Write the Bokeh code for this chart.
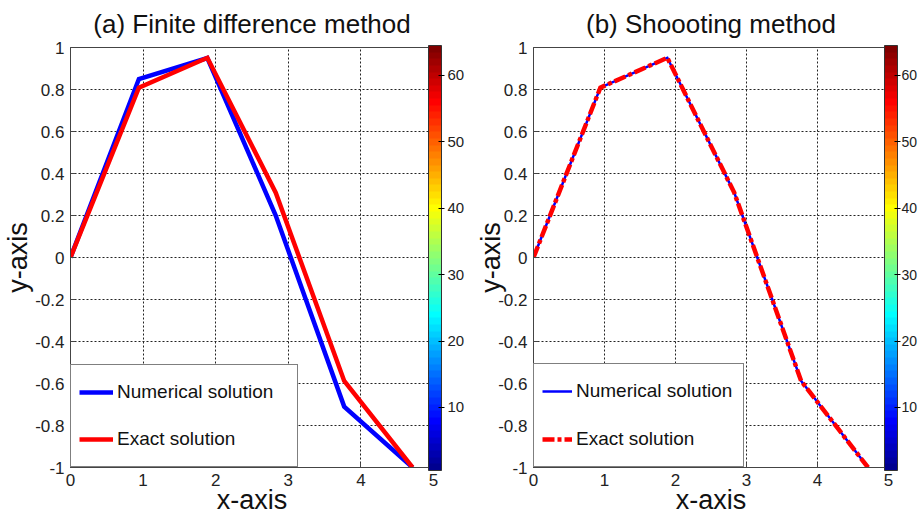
import math
from bokeh.plotting import figure
from bokeh.layouts import row
from bokeh.models import (Range1d, FixedTicker, NumeralTickFormatter, Legend, LegendItem,
                          ColorBar, LinearColorMapper, ColumnDataSource)
from bokeh.embed import file_html
from bokeh.resources import INLINE

# ---------------- data ----------------
x_nodes = [0.0, 0.942, 1.885, 2.827, 3.770, 4.712]
fd_numerical = [0.0, 0.85, 0.95, 0.20, -0.71, -1.0]
fd_exact = [0.0, 0.809, 0.951, 0.309, -0.588, -1.0]
sh_numerical = [0.0, 0.809, 0.951, 0.309, -0.588, -1.0]
sh_exact = [0.0, 0.809, 0.951, 0.309, -0.588, -1.0]

x_ticks = [0, 1, 2, 3, 4, 5]
y_ticks = [-1, -0.8, -0.6, -0.4, -0.2, 0, 0.2, 0.4, 0.6, 0.8, 1]
cb_ticks = [10, 20, 30, 40, 50, 60]
titles = ["(a) Finite difference method", "(b) Shoooting method"]
legend_labels = ["Numerical solution", "Exact solution"]

FONT = "Liberation Sans"


def jet(m=64):
    n = int(math.ceil(m / 4))
    u = [i / n for i in range(1, n + 1)] + [1.0] * (n - 1) + [i / n for i in range(n, 0, -1)]
    g0 = int(math.ceil(n / 2)) - (1 if m % 4 == 1 else 0)
    J = [[0.0, 0.0, 0.0] for _ in range(m)]
    for k, val in enumerate(u):
        gi = g0 + k + 1
        ri = gi + n
        bi = gi - n
        if 1 <= ri <= m:
            J[ri - 1][0] = val
        if 1 <= gi <= m:
            J[gi - 1][1] = val
        if 1 <= bi <= m:
            J[bi - 1][2] = val
    return ["#%02x%02x%02x" % tuple(int(round(c * 255)) for c in rgb) for rgb in J]


JET = jet(64)


def make_panel(title, y_num, y_ex, width, height, bl, br, bt, bb, shooting,
               cb_dx, ylab_standoff, leg, cb_font, cb_standoff):
    p = figure(width=width, height=height, output_backend="svg", toolbar_location=None,
               x_range=Range1d(0, 5), y_range=Range1d(-1, 1),
               min_border_left=bl, min_border_right=br, min_border_top=bt,
               min_border_bottom=bb)
    p.title.text = title
    p.title.align = "center"
    p.title.text_font = FONT
    p.title.text_font_size = "26px"
    p.title.text_font_style = "normal"
    p.title.text_color = "#111111"
    p.title.text_line_height = 0.7
    p.title.vertical_align = "top"
    p.title.standoff = 14
    p.outline_line_color = "#444444"
    p.outline_line_width = 1
    p.background_fill_color = "white"
    p.border_fill_color = "white"

    p.xaxis.ticker = FixedTicker(ticks=x_ticks)
    p.yaxis.ticker = FixedTicker(ticks=y_ticks)
    p.yaxis.formatter = NumeralTickFormatter(format="0.[0]")
    for ax in (p.xaxis, p.yaxis):
        ax.axis_line_color = "#444444"
        ax.major_tick_line_color = "#444444"
        ax.major_tick_in = 5
        ax.major_tick_out = 0
        ax.minor_tick_line_color = None
        ax.major_label_text_font = FONT
        ax.major_label_text_font_size = "17px"
        ax.major_label_text_color = "#222222"
        ax.major_label_standoff = 6
        ax.axis_label_text_font = FONT
        ax.axis_label_text_font_size = "27px"
        ax.axis_label_text_font_style = "normal"
        ax.axis_label_text_color = "#111111"
    p.xaxis.axis_label = "x-axis"
    p.yaxis.axis_label = "y-axis"
    p.xaxis.axis_label_standoff = -4
    p.yaxis.axis_label_standoff = ylab_standoff
    for g in (p.xgrid, p.ygrid):
        g.grid_line_color = "#222222"
        g.grid_line_dash = "2 2"
        g.grid_line_width = 1

    src = ColumnDataSource(dict(x=x_nodes, num=y_num, ex=y_ex))
    if not shooting:
        r_num = p.line("x", "num", source=src, line_color="#0000ff", line_width=4.5,
                       line_join="miter")
        r_ex = p.line("x", "ex", source=src, line_color="#ff0000", line_width=4.5,
                      line_join="miter")
    else:
        r_num = p.line("x", "num", source=src, line_color="#0000ff", line_width=2.5,
                       line_join="miter")
        r_ex = p.line("x", "ex", source=src, line_color="#ff0000", line_width=4.5,
                      line_dash="12 3 4 3", line_join="miter")

    legend = Legend(items=[LegendItem(label=legend_labels[0], renderers=[r_num]),
                           LegendItem(label=legend_labels[1], renderers=[r_ex])],
                    location="bottom_left", margin=0, padding=leg["pad"],
                    spacing=leg["spacing"], glyph_width=leg["gw"], glyph_height=38,
                    label_height=38, label_width=leg["lw"], label_standoff=4,
                    label_text_font=FONT, label_text_font_size="19px",
                    label_text_color="#111111", border_line_color="black",
                    border_line_width=1, background_fill_color="white",
                    background_fill_alpha=1.0)
    p.add_layout(legend)

    mapper = LinearColorMapper(palette=JET, low=0.5, high=64.5)
    cb = ColorBar(color_mapper=mapper, ticker=FixedTicker(ticks=cb_ticks),
                  location=(cb_dx, -3), width=13, height=425, padding=0, margin=0,
                  bar_line_color="#333333", bar_line_width=1,
                  major_tick_line_color="black", major_tick_in=3, major_tick_out=3,
                  minor_tick_line_color=None, label_standoff=cb_standoff,
                  major_label_text_font=FONT, major_label_text_font_size=cb_font,
                  major_label_text_color="#222222",
                  background_fill_alpha=0.0, border_line_color=None)
    p.add_layout(cb)
    return p


p1 = make_panel(titles[0], fd_numerical, fd_exact, width=468, height=525,
                bl=68, br=35, bt=46, bb=58, shooting=False, cb_dx=358, ylab_standoff=-1,
                leg=dict(pad=8, spacing=9, gw=34, lw=172), cb_font="15px", cb_standoff=3)
p2 = make_panel(titles[1], sh_numerical, sh_exact, width=451, height=525,
                bl=65, br=31, bt=47, bb=56, shooting=True, cb_dx=351, ylab_standoff=-11,
                leg=dict(pad=8, spacing=10, gw=30, lw=159), cb_font="14px", cb_standoff=1)

layout = row(p1, p2)
open("out.html", "w").write(file_html(layout, INLINE))
